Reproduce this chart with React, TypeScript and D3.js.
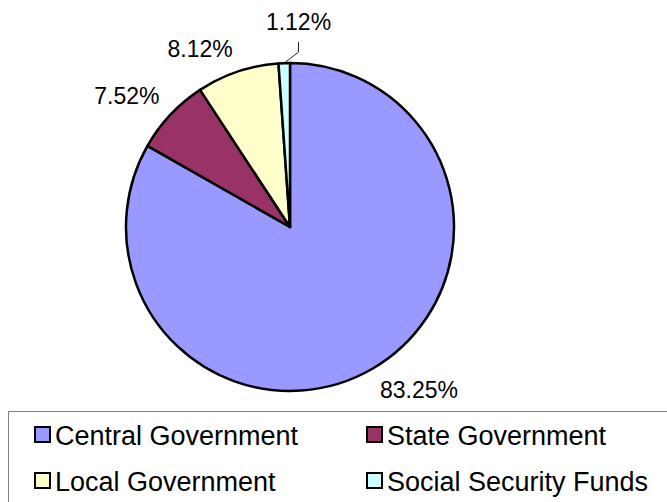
import React from "react";
import * as d3 from "d3";

const categories = ["Central Government", "State Government", "Local Government", "Social Security Funds"];
const shares = [83.25, 7.52, 8.12, 1.12];
const labels = ["83.25%", "7.52%", "8.12%", "1.12%"];
const colors = ["#9999FF", "#993366", "#FFFFCC", "#CCFFFF"];

const W = 667;
const H = 502;
const CX = 290;
const CY = 227;
const R = 164;
const LABEL_GAP = 15;
const LABEL_FONT = 23;
const LEGEND_FONT = 27;

export default function App() {
  const pie = d3.pie<number>().value((d) => d).sort(null).startAngle(0).endAngle(2 * Math.PI);
  const arcs = pie(shares);
  const arc = d3.arc<d3.PieArcDatum<number>>().innerRadius(0).outerRadius(R);
  const capH = LABEL_FONT * 0.716;

  const labelEls = arcs.map((a, i) => {
    const mid = (a.startAngle + a.endAngle) / 2;
    const ux = Math.sin(mid);
    const uy = -Math.cos(mid);
    if (i === 3) {
      // small slice: label moved up with a leader line
      const ax = CX + R * ux;
      const ay = CY + R * uy;
      const lx = CX + 8.5;
      const base = 30;
      return (
        <g key={i}>
          <polyline
            points={`${ax},${ay} ${lx},${base + 22} ${lx},${base + 12}`}
            fill="none"
            stroke="#222"
            strokeWidth={1}
          />
          <text x={lx} y={base} textAnchor="middle" fontSize={LABEL_FONT}>
            {labels[i]}
          </text>
        </g>
      );
    }
    const px = CX + (R + LABEL_GAP) * ux;
    const py = CY + (R + LABEL_GAP) * uy;
    const anchor = ux >= 0 ? "start" : "end";
    const y = uy >= 0 ? py + capH : py;
    return (
      <text key={i} x={px} y={y} textAnchor={anchor} fontSize={LABEL_FONT}>
        {labels[i]}
      </text>
    );
  });

  const legendPos = [
    { x: 34, y: 426 },
    { x: 366, y: 426 },
    { x: 34, y: 472 },
    { x: 366, y: 472 },
  ];
  const legendOrder = [0, 1, 2, 3];

  return (
    <svg
      width={W}
      height={H}
      style={{ position: "absolute", left: 0, top: 0, fontFamily: "'Liberation Sans', Arial, sans-serif" }}
    >
      <rect x={0} y={0} width={W} height={H} fill="#fff" />
      <g transform={`translate(${CX},${CY})`}>
        {arcs.map((a, i) => (
          <path key={i} d={arc(a) || ""} fill={colors[i]} stroke="#000" strokeWidth={2.5} strokeLinejoin="round" />
        ))}
      </g>
      {labelEls}
      <rect x={8.5} y={411.5} width={W} height={H} fill="none" stroke="#808080" strokeWidth={1} />
      {legendOrder.map((ci, k) => {
        const p = legendPos[k];
        return (
          <g key={ci}>
            <rect x={p.x + 1} y={p.y + 1} width={15} height={15} fill={colors[ci]} stroke="#000" strokeWidth={2} />
            <text x={p.x + 21} y={p.y + 19} fontSize={LEGEND_FONT}>
              {categories[ci]}
            </text>
          </g>
        );
      })}
    </svg>
  );
}
